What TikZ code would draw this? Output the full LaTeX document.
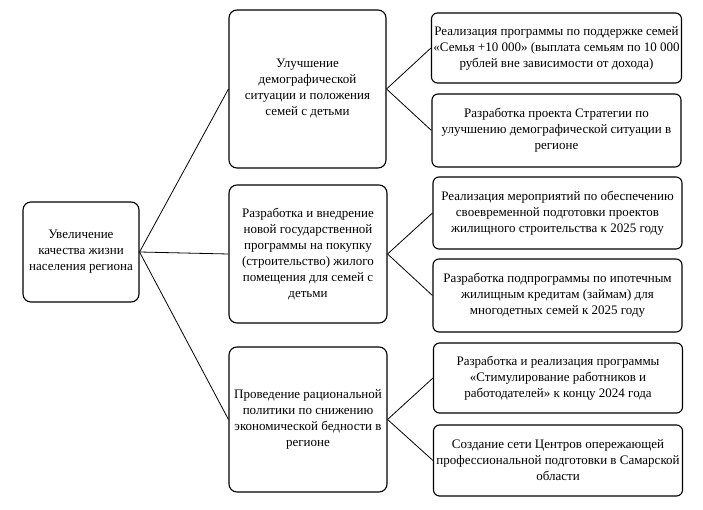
\documentclass[tikz,border=0pt]{standalone}
\usepackage{fontspec}
\setmainfont{Liberation Serif}

\begin{document}
\begin{tikzpicture}[x=1pt, y=-1pt,
        box/.style={draw, rounded corners=8pt, line width=1.1pt, align=center, inner sep=2pt,
          font=\fontsize{13}{16}\selectfont},
        sub/.style={box, rounded corners=6pt, minimum width=249pt},
        ln/.style={line width=.8pt}]
      \useasboundingbox (0,0) rectangle (703,510);

      % goal
      \node[box, minimum width=116pt, minimum height=100pt] (goal) at (81,252)
        {Увеличение\\качества жизни\\населения региона};

      % directions
      \node[box, minimum width=157pt, minimum height=158pt] (dem) at (307.5,89)
        {Улучшение\\демографической\\ситуации и положения\\семей с детьми};
      \node[box, minimum width=158pt, minimum height=138pt] (hous) at (308,254)
        {Разработка и внедрение\\новой государственной\\программы на покупку\\(строительство) жилого\\помещения для семей с\\детьми};
      \node[box, minimum width=158pt, minimum height=145pt] (pov) at (308,419.5)
        {Проведение рациональной\\политики по снижению\\экономической бедности в\\регионе};

      % measures
      \node[sub, minimum height=70pt] (m1) at (556.5,48)
        {Реализация программы по поддержке семей\\«Семья +10 000» (выплата семьям по 10 000\\рублей вне зависимости от дохода)};
      \node[sub, minimum height=73pt] (m2) at (556.5,130.5)
        {Разработка проекта Стратегии по\\улучшению демографической ситуации в\\регионе};
      \node[sub, minimum height=72pt] (m3) at (557.5,213)
        {Реализация мероприятий по обеспечению\\своевременной подготовки проектов\\жилищного строительства к 2025 году};
      \node[sub, minimum height=73pt] (m4) at (557.5,295.5)
        {Разработка подпрограммы по ипотечным\\жилищным кредитам (займам) для\\многодетных семей к 2025 году};
      \node[sub, minimum height=70pt] (m5) at (558,378)
        {Разработка и реализация программы\\«Стимулирование работников и\\работодателей» к концу 2024 года};
      \node[sub, minimum height=71pt] (m6) at (558,460.5)
        {Создание сети Центров опережающей\\профессиональной подготовки в Самарской\\области};

      \foreach \d in {dem,hous,pov}
        \draw[ln] (goal.east) -- (\d.west);
      \draw[ln] (dem.east) -- (m1.west);
      \draw[ln] (dem.east) -- (m2.west);
      \draw[ln] (hous.east) -- (m3.west);
      \draw[ln] (hous.east) -- (m4.west);
      \draw[ln] (pov.east) -- (m5.west);
      \draw[ln] (pov.east) -- (m6.west);
    \end{tikzpicture}
\end{document}
